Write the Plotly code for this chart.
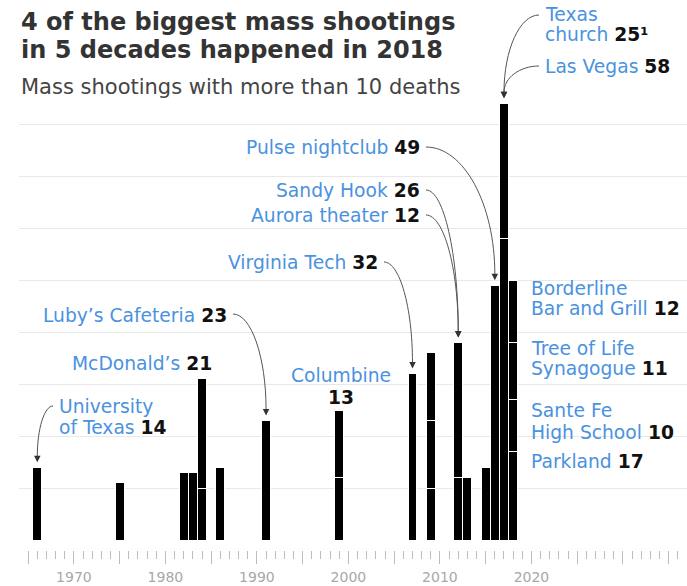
import plotly.graph_objects as go

# ---------------- data ----------------
years = [1966, 1975, 1982, 1983, 1984, 1986, 1991, 1999,
         2007, 2009, 2012, 2013, 2015, 2016, 2017, 2018]
# deaths per shooting, stacked bottom -> top within each year
seg1 = [14, 11, 13, 13, 10, 14, 23, 12, 32, 10, 12, 12, 14, 49, 58, 17]
seg2 = [None, None, None, None, 21, None, None, 13, None, 13, 26, None, None, None, 26, 10]
seg3 = [None, None, None, None, None, None, None, None, None, 13, None, None, None, None, None, 11]
seg4 = [None, None, None, None, None, None, None, None, None, None, None, None, None, None, None, 12]

major_ticks = list(range(1965, 2040, 5))
minor_ticks = [t for t in range(1965, 2037) if t % 5 != 0]
label_years = [1970, 1980, 1990, 2000, 2010, 2020]
grid_values = [10, 20, 30, 40, 50, 60, 70, 80]

# ---------------- style / geometry ----------------
W, H = 687, 586
L, BASE, AXIS = 19, 540, 550
X0, X1 = 1964, 2037
PPY = (W - L) / (X1 - X0)      # pixels per year
PPD = 5.2                      # pixels per death
YMAX = BASE / PPD
YMIN = -(AXIS - BASE) / PPD
FONT = "DejaVu Sans"
BLUE = "#4a92df"
DARK = "#111111"
ARROW = "#555555"
LBL = 18.7


def xd(px):
    return X0 + (px - L) / PPY


def yd(py):
    return (BASE - py) / PPD


def xpx(year):
    return L + (year - X0) * PPY


totals = {}
for i, y in enumerate(years):
    totals[y] = sum(v for v in (seg1[i], seg2[i], seg3[i], seg4[i]) if v)

fig = go.Figure()
for seg in (seg1, seg2, seg3, seg4):
    fig.add_trace(go.Bar(
        x=years, y=seg,
        marker=dict(color="#000000", line=dict(color="#ffffff", width=1)),
        hoverinfo="skip", showlegend=False,
    ))

annotations = []
shapes = []


def text_ann(px, py, text, anchor="left", size=LBL, color=BLUE):
    annotations.append(dict(
        x=xd(px), y=yd(py), xref="x", yref="y", text=text, showarrow=False,
        xanchor=anchor, yanchor="middle",
        font=dict(family=FONT, size=size, color=color)))


def num(n):
    return f'<b><span style="color:{DARK}">{n}</span></b>'


# title + subtitle
text_ann(19, 22, "<b>4 of the biggest mass shootings</b>", size=24, color="#333333")
text_ann(19, 50, "<b>in 5 decades happened in 2018</b>", size=24, color="#333333")
text_ann(19, 87, "Mass shootings with more than 10 deaths", size=21, color="#444444")

# labels
text_ann(57, 406, "University")
text_ann(57, 427, "of Texas " + num(14))
text_ann(229, 315, "Luby’s Cafeteria " + num(23), anchor="right")
text_ann(214, 363, "McDonald’s " + num(21), anchor="right")
text_ann(341, 375, "Columbine", anchor="center")
text_ann(341, 397, num(13), anchor="center")
text_ann(380, 262, "Virginia Tech " + num(32), anchor="right")
text_ann(422, 215, "Aurora theater " + num(12), anchor="right")
text_ann(422, 190, "Sandy Hook " + num(26), anchor="right")
text_ann(422, 147, "Pulse nightclub " + num(49), anchor="right")
text_ann(543, 14, "Texas")
text_ann(543, 34, "church " + num("25¹"))
text_ann(543, 66, "Las Vegas " + num(58))
text_ann(529, 288, "Borderline")
text_ann(529, 308, "Bar and Grill " + num(12))
text_ann(529, 348, "Tree of Life")
text_ann(529, 368, "Synagogue " + num(11))
text_ann(529, 410, "Sante Fe")
text_ann(529, 432, "High School " + num(10))
text_ann(529, 461, "Parkland " + num(17))

# curved arrows: (start px, start py, target year)
arrows = [
    (53, 406, 1966),
    (233, 314, 1991),
    (384, 262, 2007),
    (426, 190, 2012),
    (426, 215, 2012),
    (426, 147, 2016),
    (539, 15, 2017),
    (539, 66, 2017),
]
GAP = 5
for sx, sy, yr in arrows:
    ex = xpx(yr)
    tip = BASE - totals[yr] * PPD - GAP
    ey = tip - 6
    dx, dy = ex - sx, ey - sy
    p1 = (sx + 0.55 * dx, sy)
    p2 = (ex, ey - 0.55 * dy)
    path = (f"M {xd(sx)},{yd(sy)} C {xd(p1[0])},{yd(p1[1])} "
            f"{xd(p2[0])},{yd(p2[1])} {xd(ex)},{yd(ey)}")
    shapes.append(dict(type="path", path=path, xref="x", yref="y",
                       line=dict(color=ARROW, width=1), layer="above"))
    annotations.append(dict(x=yr, y=yd(tip), xref="x", yref="y", text="",
                            showarrow=True, ax=0, ay=-7, arrowhead=2,
                            arrowsize=1.3, arrowwidth=1, arrowcolor="#333333",
                            standoff=0))

fig.update_layout(
    width=W, height=H,
    margin=dict(l=L, r=0, t=0, b=H - AXIS),
    paper_bgcolor="white", plot_bgcolor="white",
    barmode="stack", bargap=0.02,
    showlegend=False,
    annotations=annotations, shapes=shapes,
    xaxis=dict(range=[X0, X1], tickmode="array", tickvals=major_ticks,
               ticktext=[str(v) if v in label_years else "" for v in major_ticks],
               ticks="outside", ticklen=13, tickwidth=1, tickcolor="#bdbdbd",
               minor=dict(tickmode="array", tickvals=minor_ticks, ticks="outside",
                          ticklen=8, tickwidth=1, tickcolor="#bdbdbd"),
               showline=False, showgrid=False, zeroline=False,
               ticklabelstandoff=1,
               tickfont=dict(family=FONT, size=14, color="#a8a8a8"),
               fixedrange=True),
    yaxis=dict(range=[YMIN, YMAX], tickvals=grid_values, showticklabels=False,
               showgrid=True, gridcolor="#e8e8e8", gridwidth=1,
               zeroline=False, showline=False, ticks="", fixedrange=True),
)

fig.write_html("out.html")
